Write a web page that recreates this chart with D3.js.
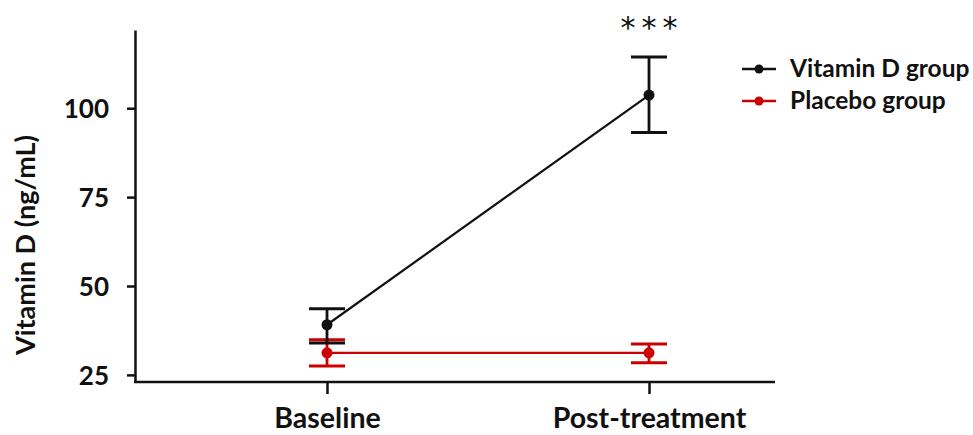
<!DOCTYPE html>
<html>
<head>
<meta charset="utf-8">
<script src="https://cdn.jsdelivr.net/npm/d3@7/dist/d3.min.js"></script>
<style>
  html, body { margin: 0; padding: 0; background: #fff; }
  svg { display: block; }
  text { font-family: Lato, "Open Sans", sans-serif; font-weight: bold; }
</style>
</head>
<body>
<svg id="chart" width="973" height="435"></svg>
<script>
const timepoints = ["Baseline", "Post-treatment"];
const seriesNames = ["Vitamin D group", "Placebo group"];
const seriesColors = ["#111111", "#cc0000"];
const vitaminMean = [39.1, 103.7];
const vitaminLow = [34.0, 93.2];
const vitaminHigh = [43.6, 114.4];
const placeboMean = [31.2, 31.2];
const placeboLow = [27.5, 28.4];
const placeboHigh = [34.9, 33.7];
const yTicks = [25, 50, 75, 100];
const significance = ["", "***"];

const series = [
  { name: seriesNames[0], color: seriesColors[0], mean: vitaminMean, low: vitaminLow, high: vitaminHigh },
  { name: seriesNames[1], color: seriesColors[1], mean: placeboMean, low: placeboLow, high: placeboHigh }
];

const svg = d3.select("#chart");
const y = d3.scaleLinear().domain([23, 122]).range([382, 30]);
const x = d3.scalePoint().domain(timepoints).range([327, 649]);
const axisLeftX = 135, axisRightX = 775, axisBottomY = 382;

// Y axis
const yAxis = svg.append("g").attr("transform", `translate(${axisLeftX},0)`)
  .call(d3.axisLeft(y).tickValues(yTicks).tickSize(8).tickSizeOuter(0).tickPadding(18));
yAxis.select(".domain").attr("stroke", "#111").attr("stroke-width", 2.5);
yAxis.selectAll(".tick line").attr("stroke", "#111").attr("stroke-width", 2.5);
yAxis.selectAll(".tick text").attr("fill", "#111").style("font-size", "26px").attr("dy", "0.36em");

// X axis
const xAxis = svg.append("g").attr("transform", `translate(0,${axisBottomY})`)
  .call(d3.axisBottom(x).tickSize(12).tickSizeOuter(0).tickPadding(0));
xAxis.select(".domain").remove();
xAxis.append("line").attr("x1", axisLeftX - 1).attr("x2", axisRightX).attr("y1", 0).attr("y2", 0)
  .attr("stroke", "#111").attr("stroke-width", 2.5);
xAxis.selectAll(".tick line").attr("stroke", "#111").attr("stroke-width", 2.5);
xAxis.selectAll(".tick text").attr("fill", "#111").style("font-size", "28.5px")
  .attr("y", 46).attr("dy", null);

// Y title
svg.append("text")
  .attr("transform", `translate(35,245) rotate(-90)`)
  .attr("text-anchor", "middle").attr("fill", "#111").style("font-size", "27px")
  .text("Vitamin D (ng/mL)");

const line = d3.line().x((d, i) => x(timepoints[i])).y(d => y(d));
const capHalf = 18;

[series[1], series[0]].forEach(s => {
  const g = svg.append("g");
  g.append("path").datum(s.mean).attr("d", line)
    .attr("fill", "none").attr("stroke", s.color).attr("stroke-width", 2.2);
  timepoints.forEach((t, i) => {
    const cx = x(t);
    g.append("line").attr("x1", cx).attr("x2", cx).attr("y1", y(s.low[i])).attr("y2", y(s.high[i]))
      .attr("stroke", s.color).attr("stroke-width", 2.8);
    [s.low[i], s.high[i]].forEach(v => {
      g.append("line").attr("x1", cx - capHalf).attr("x2", cx + capHalf).attr("y1", y(v)).attr("y2", y(v))
        .attr("stroke", s.color).attr("stroke-width", 3);
    });
    g.append("circle").attr("cx", cx).attr("cy", y(s.mean[i])).attr("r", 5.5).attr("fill", s.color);
  });
});

// significance
timepoints.forEach((t, i) => {
  if (!significance[i]) return;
  svg.append("text").attr("x", x(t) + 3).attr("y", 38).attr("text-anchor", "middle")
    .attr("fill", "#111").style("font-size", "30px").style("font-weight", "normal")
    .style("font-family", "'DejaVu Sans', sans-serif").attr("letter-spacing", "6px")
    .text(significance[i]);
});

// legend
const legend = svg.append("g");
series.forEach((s, i) => {
  const ly = 69 + i * 32;
  legend.append("line").attr("x1", 742).attr("x2", 776).attr("y1", ly).attr("y2", ly)
    .attr("stroke", s.color).attr("stroke-width", 2.5);
  legend.append("circle").attr("cx", 759).attr("cy", ly).attr("r", 4.5).attr("fill", s.color);
  legend.append("text").attr("x", 790).attr("y", ly + 8).attr("fill", "#111")
    .style("font-size", "24.5px").text(s.name);
});
</script>
</body>
</html>
